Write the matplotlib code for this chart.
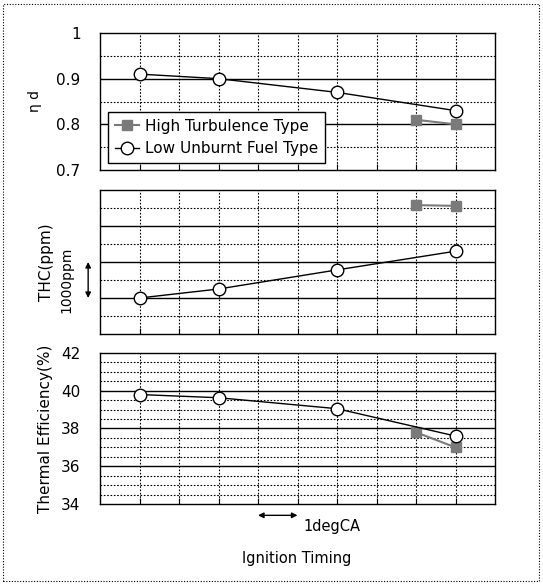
import matplotlib
matplotlib.use("Agg")
import matplotlib.pyplot as plt
from matplotlib.patches import Rectangle

# Data
x_low = [1, 3, 6, 9]
x_high = [8, 9]
eta_low = [0.91, 0.90, 0.87, 0.83]
eta_high = [0.81, 0.80]
thc_low = [1.0, 1.25, 1.78, 2.3]      # in units of 1000 ppm (relative)
thc_high = [3.58, 3.56]
te_low = [39.8, 39.63, 39.05, 37.6]
te_high = [37.8, 37.0]
eta_ticks = [0.7, 0.8, 0.9, 1.0]
eta_ticklabels = ["0.7", "0.8", "0.9", "1"]
te_ticks = [34, 36, 38, 40, 42]

W, H = 543, 585
fig = plt.figure(figsize=(W / 100, H / 100), dpi=100)
plt.rcParams['font.family'] = ['DejaVu Sans']

def ax_rect(l, t, r, b):
    return [l / W, 1 - b / H, (r - l) / W, (b - t) / H]

gray = "#7a7a7a"

def style_axis(ax, ymin, ymax, major, minor):
    ax.set_xlim(0, 10)
    ax.set_ylim(ymin, ymax)
    for xv in range(1, 10):
        ax.axvline(xv, color="black", lw=0.8, ls=(0, (1.5, 1.5)), zorder=1)
    for yv in minor:
        ax.axhline(yv, color="black", lw=0.8, ls=(0, (1.5, 1.5)), zorder=1)
    for yv in major:
        ax.axhline(yv, color="black", lw=1.0, zorder=1)
    ax.set_xticks(range(1, 10))
    ax.set_xticklabels([])
    ax.tick_params(axis="x", direction="in", length=4, width=0.8)
    ax.tick_params(axis="y", length=0, labelsize=11, pad=14)
    for s in ax.spines.values():
        s.set_linewidth(1.0)

def plot_series(ax, yl, yh):
    ax.plot(x_high, yh, color=gray, lw=1.5, marker="s", ms=6.5,
            mfc=gray, mec=gray, zorder=3, label="High Turbulence Type")
    ax.plot(x_low, yl, color="black", lw=1.0, marker="o", ms=9,
            mfc="white", mec="black", mew=1.0, zorder=4, label="Low Unburnt Fuel Type")

# Top panel
ax1 = fig.add_axes(ax_rect(100, 33, 495, 170))
style_axis(ax1, 0.7, 1.0, [0.8, 0.9], [0.75, 0.85, 0.95])
plot_series(ax1, eta_low, eta_high)
ax1.set_yticks(eta_ticks)
ax1.set_yticklabels(eta_ticklabels)
ax1.set_ylabel("η d", fontsize=10, labelpad=10)
leg = ax1.legend(loc="lower left", bbox_to_anchor=(0.02, 0.05), borderaxespad=0,
                 fontsize=11, frameon=True, fancybox=False, edgecolor="black",
                 framealpha=1, handlelength=1.6, handletextpad=0.4,
                 borderpad=0.45, labelspacing=0.5)
leg.get_frame().set_linewidth(1.0)

# Middle panel
ax2 = fig.add_axes(ax_rect(100, 190, 495, 334))
style_axis(ax2, 0, 4, [1, 2, 3], [0.5, 1.5, 2.5, 3.5])
plot_series(ax2, thc_low, thc_high)
ax2.set_yticks([])
fig.text(47 / W, 1 - 262 / H, "THC(ppm)", rotation=90, ha="center", va="center", fontsize=11)
fig.text(66 / W, 1 - 280 / H, "1000ppm", rotation=90, ha="center", va="center", fontsize=10)
ax2.annotate("", xy=(-0.3, 2.0), xytext=(-0.3, 1.0), xycoords="data",
             arrowprops=dict(arrowstyle="<|-|>", color="black", lw=1.0,
                             mutation_scale=8, shrinkA=0, shrinkB=0),
             annotation_clip=False)

# Bottom panel
ax3 = fig.add_axes(ax_rect(100, 353, 495, 504))
minor = [34.5, 35, 35.5, 36.5, 37, 37.5, 38.5, 39, 39.5, 40.5, 41, 41.5]
style_axis(ax3, 34, 42, [36, 38, 40], minor)
plot_series(ax3, te_low, te_high)
ax3.set_yticks(te_ticks)
ax3.set_ylabel("Thermal Efficiency(%)", fontsize=11, labelpad=6)
ax3.annotate("", xy=(5, 33.4), xytext=(4, 33.4), xycoords="data",
             arrowprops=dict(arrowstyle="<|-|>", color="black", lw=1.0,
                             mutation_scale=8, shrinkA=0, shrinkB=0),
             annotation_clip=False)
fig.text(303 / W, 1 - 526 / H, "1degCA", ha="left", va="center", fontsize=10.5)
fig.text(297 / W, 1 - 558 / H, "Ignition Timing", ha="center", va="center", fontsize=10.5)

# Outer dotted border
fig.patches.append(Rectangle((3 / W, 4 / H), (W - 7) / W, (H - 8) / H, transform=fig.transFigure,
                             fill=False, ec="black", lw=0.8, ls=(0, (1, 1.5))))

fig.savefig("out.png", dpi=100)
